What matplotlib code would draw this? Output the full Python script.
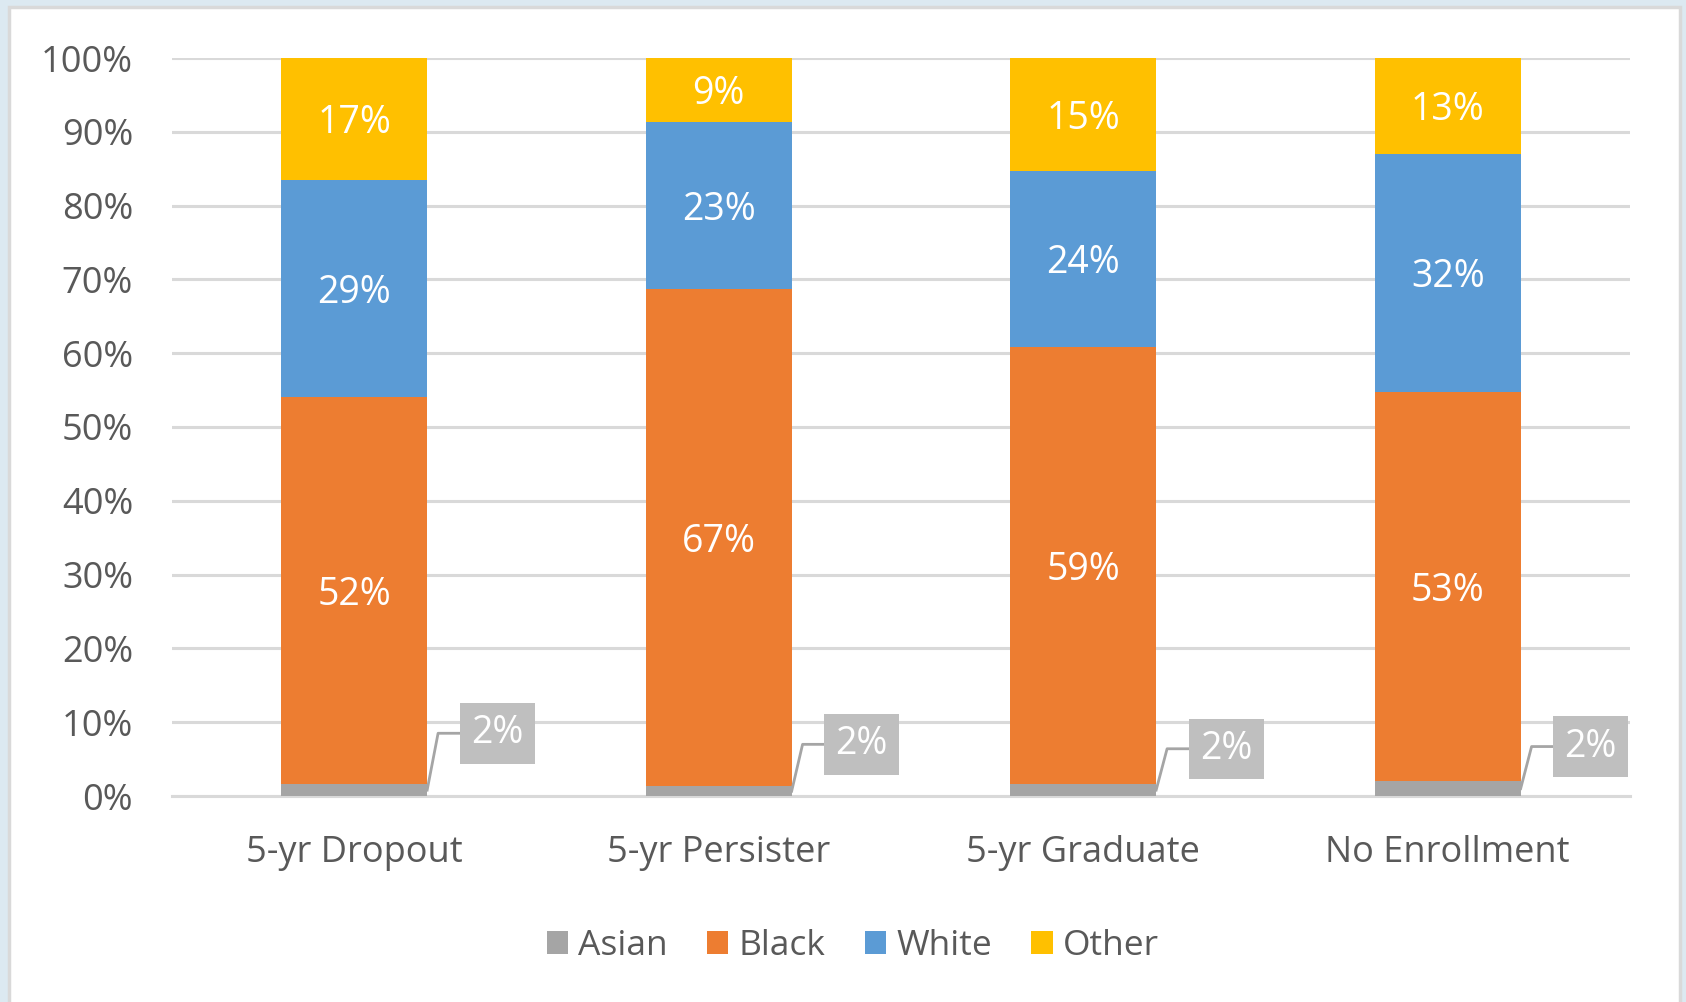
import matplotlib.pyplot as plt
from matplotlib.patches import Rectangle
import numpy as np

categories = ['5-yr Dropout', '5-yr Persister', '5-yr Graduate', 'No Enrollment']
asian = [1.6, 1.3, 1.6, 2.0]
black = [52.4, 67.4, 59.3, 52.7]
white = [29.5, 22.6, 23.8, 32.3]
other = [16.5, 8.7, 15.3, 13.0]
asian_lbl = ['2%', '2%', '2%', '2%']
black_lbl = ['52%', '67%', '59%', '53%']
white_lbl = ['29%', '23%', '24%', '32%']
other_lbl = ['17%', '9%', '15%', '13%']

# heights of the callout boxes for the Asian labels (as placed in the chart)
callout_y = [8.5, 7.0, 6.4, 6.7]

colors = {'Asian': '#A5A5A5', 'Black': '#ED7D31', 'White': '#5B9BD5', 'Other': '#FFC000'}
txt = '#595959'

plt.rcParams['font.family'] = ['Open Sans', 'DejaVu Sans']

fig = plt.figure(figsize=(16.86, 10.02), dpi=100)
fig.patch.set_facecolor('#dce9f1')

# white panel with grey frame, drawn in a background axes
bg = fig.add_axes([0, 0, 1, 1], zorder=-1)
bg.set_xlim(0, 1686)
bg.set_ylim(1002, 0)
bg.axis('off')
bg.add_patch(Rectangle((9, 7), 1680 - 9, 1010, facecolor='white',
                       edgecolor='#d9d9d9', linewidth=2.5))

ax = fig.add_axes([172 / 1686, 1 - 796 / 1002, (1630 - 172) / 1686, (796 - 58) / 1002])
ax.set_facecolor('none')

x = np.arange(len(categories))
w = 0.4
bottom = np.zeros(len(categories))
series = [('Asian', asian, asian_lbl), ('Black', black, black_lbl),
          ('White', white, white_lbl), ('Other', other, other_lbl)]
for name, vals, lbls in series:
    ax.bar(x, vals, w, bottom=bottom, color=colors[name], label=name, zorder=3)
    if name != 'Asian':
        for i in range(len(x)):
            ax.annotate(lbls[i], (x[i], bottom[i] + vals[i] / 2), xytext=(0, -3),
                        textcoords='offset points', ha='center', va='center',
                        color='white', fontsize=27, zorder=4)
    bottom = bottom + np.array(vals)

# callouts for small Asian segments
for i in range(len(x)):
    y0 = asian[i] / 2
    yb = callout_y[i]
    ax.plot([x[i] + w / 2, x[i] + w / 2 + 0.03, x[i] + 0.29],
            [y0, yb, yb], color='#a5a5a5', lw=2, zorder=4, clip_on=False)
    ax.text(x[i] + 0.392, yb, asian_lbl[i], ha='center', va='center', color='white',
            fontsize=27, zorder=5,
            bbox=dict(boxstyle='square,pad=0.3', facecolor='#bfbfbf', edgecolor='none'))

ax.set_xlim(-0.5, len(categories) - 0.5)
ax.set_ylim(0, 100)
ax.set_yticks(np.arange(0, 101, 10))
ax.set_yticklabels(['%d%%' % v for v in range(0, 101, 10)])
ax.set_xticks(x)
ax.set_xticklabels(categories)
ax.yaxis.grid(True, color='#d9d9d9', lw=2.2, zorder=0)
ax.set_axisbelow(True)
for s in ['top', 'right', 'left']:
    ax.spines[s].set_visible(False)
ax.spines['bottom'].set_color('#d9d9d9')
ax.spines['bottom'].set_linewidth(2.2)
ax.tick_params(axis='y', length=0, pad=28, labelsize=26, labelcolor=txt)
ax.tick_params(axis='x', length=0, pad=28, labelsize=26, labelcolor=txt)

ax.legend(loc='center', bbox_to_anchor=(0.467, -(946 - 796) / 738),
          ncol=4, frameon=False, fontsize=25.5, labelcolor=txt, handlelength=0.6,
          handleheight=0.6, handletextpad=0.3, columnspacing=1.1)

fig.savefig('out.png', dpi=100, facecolor=fig.get_facecolor())
